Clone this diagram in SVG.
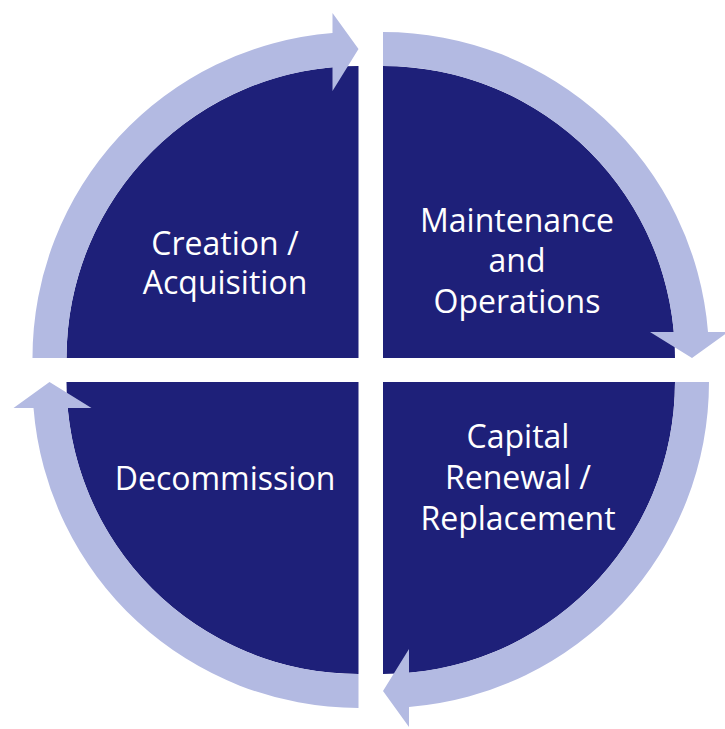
<svg xmlns="http://www.w3.org/2000/svg" width="725" height="729" viewBox="0 0 725 729">
  <style>
    .wedge { fill: #1E2079; }
    .band { fill: #B3BAE2; }
    .label { fill: #FFFFFF; font-family: "Open Sans", "Noto Sans", "DejaVu Sans", sans-serif; font-size: 32px; text-anchor: middle; }
  </style>
  <defs>
    <!-- quarter wedge, corner at origin, opening to the upper left -->
    <path id="wedge-shape" d="M 0 0 L -292 0 A 292 292 0 0 1 0 -292 Z"/>
    <!-- curved arrow riding on the wedge rim, ending in a head at 12 o'clock -->
    <path id="arc-arrow" d="M -326 0 A 326 326 0 0 1 -26 -325 L -26 -345 L 0 -309 L -26 -267 L -26 -290.8 A 292 292 0 0 0 -292 0 Z"/>
  </defs>

  <rect width="725" height="729" fill="#FFFFFF"/>

  <g id="creation-acquisition">
    <use href="#wedge-shape" class="wedge" transform="translate(358.5 358)"/>
    <text class="label" x="225" y="254.5">Creation /</text>
    <text class="label" x="225" y="293.5">Acquisition</text>
  </g>

  <g id="maintenance-operations">
    <use href="#wedge-shape" class="wedge" transform="translate(383 358) rotate(90)"/>
    <text class="label" x="517" y="232">Maintenance</text>
    <text class="label" x="517" y="272">and</text>
    <text class="label" x="517" y="313">Operations</text>
  </g>

  <g id="capital-renewal">
    <use href="#wedge-shape" class="wedge" transform="translate(383 382) rotate(180)"/>
    <text class="label" x="518" y="448">Capital</text>
    <text class="label" x="518" y="489">Renewal /</text>
    <text class="label" x="518" y="530">Replacement</text>
  </g>

  <g id="decommission">
    <use href="#wedge-shape" class="wedge" transform="translate(358.5 382) rotate(270)"/>
    <text class="label" x="225" y="490">Decommission</text>
  </g>

  <g id="connectors">
    <use href="#arc-arrow" class="band" transform="translate(358.5 358)"/>
    <use href="#arc-arrow" class="band" transform="translate(383 358) rotate(90)"/>
    <use href="#arc-arrow" class="band" transform="translate(383 382) rotate(180)"/>
    <use href="#arc-arrow" class="band" transform="translate(358.5 382) rotate(270)"/>
  </g>
</svg>
